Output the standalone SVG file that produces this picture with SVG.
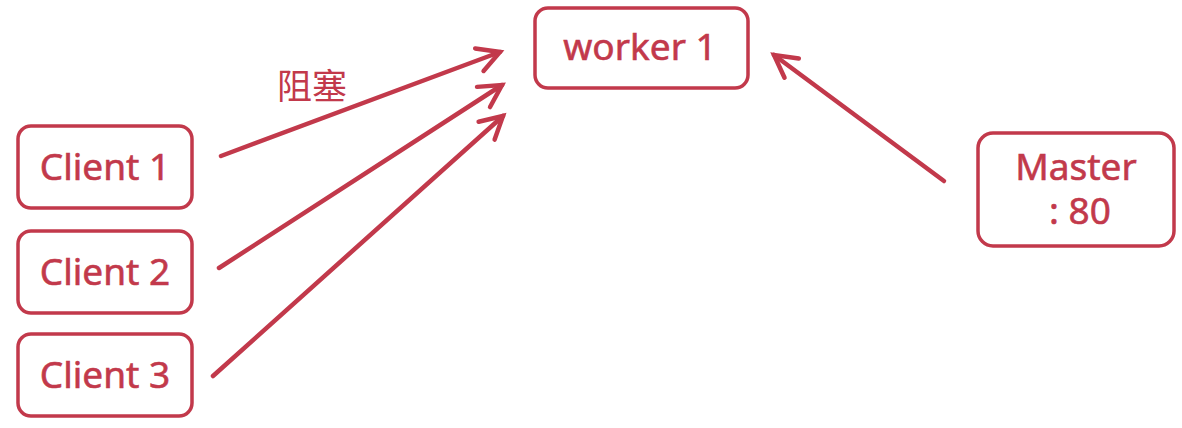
<svg xmlns="http://www.w3.org/2000/svg" width="1182" height="428" viewBox="0 0 1182 428">
<style>
.box{fill:#ffffff;stroke:#c2394b;stroke-width:3.5}
.lbl{font-family:"Noto Sans","Open Sans",sans-serif;font-size:37px;fill:#c2394b;stroke:#c2394b;stroke-width:0.6;text-anchor:middle}
.cjk{font-family:"Noto Sans CJK SC",sans-serif;font-size:35px;fill:#c2394b}
.edge{fill:none;stroke:#c2394b;stroke-width:4.5;stroke-linecap:round;marker-end:url(#ah)}
</style>
<defs>
<marker id="ah" markerUnits="userSpaceOnUse" markerWidth="40" markerHeight="40" viewBox="-30 -20 40 40" refX="0" refY="0" orient="auto">
<path d="M-22,-12 L0,0 L-22,12" fill="none" stroke="#c2394b" stroke-width="4.5" stroke-linecap="round" stroke-linejoin="miter"/>
</marker>
</defs>
<rect width="1182" height="428" fill="#ffffff"/>
<g id="connectors">
<line class="edge" x1="221" y1="156" x2="500" y2="52"/>
<line class="edge" x1="219" y1="268" x2="502" y2="85"/>
<line class="edge" x1="213" y1="376" x2="503" y2="116"/>
<line class="edge" x1="944" y1="181" x2="774" y2="55"/>
<text class="cjk" x="277" y="99">阻塞</text>
</g>
<g id="worker1">
<rect class="box" x="535" y="8" width="213" height="80" rx="13"/>
<text class="lbl" x="640" y="60">worker 1</text>
</g>
<g id="client1">
<rect class="box" x="18" y="126" width="174" height="82" rx="13"/>
<text class="lbl" x="105" y="180">Client 1</text>
</g>
<g id="client2">
<rect class="box" x="18" y="231" width="174" height="82" rx="13"/>
<text class="lbl" x="105" y="285">Client 2</text>
</g>
<g id="client3">
<rect class="box" x="18" y="334" width="174" height="82" rx="13"/>
<text class="lbl" x="105" y="388">Client 3</text>
</g>
<g id="master">
<rect class="box" x="978" y="133" width="196" height="113" rx="15"/>
<text class="lbl" x="1076" y="180">Master</text>
<text class="lbl" x="1080" y="224">: 80</text>
</g>
</svg>
